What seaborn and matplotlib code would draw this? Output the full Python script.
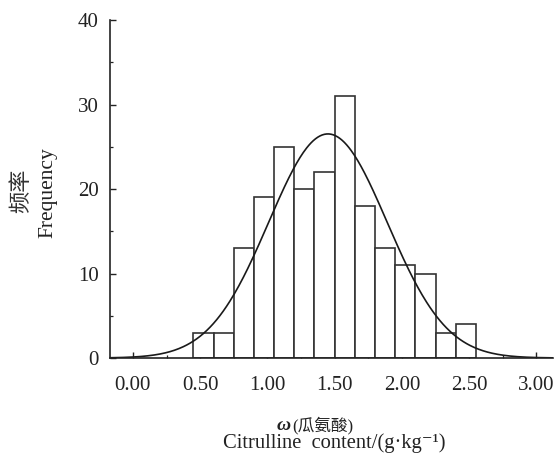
import numpy as np
import pandas as pd
import matplotlib
matplotlib.use("Agg")
import matplotlib.pyplot as plt
from matplotlib.ticker import MultipleLocator, FormatStrFormatter
import seaborn as sns

# Histogram of citrulline content: bins of 0.15 g/kg starting at 0.45
bin_start = 0.45
bin_width = 0.15
counts = [3, 3, 13, 19, 25, 20, 22, 31, 18, 13, 11, 10, 3, 4]

# Fitted normal curve parameters
fit_mean = 1.45
fit_sd = 0.44

x_ticks = [0.0, 0.5, 1.0, 1.5, 2.0, 2.5, 3.0]
y_ticks = [0, 10, 20, 30, 40]

sns.set_theme(style="ticks")
plt.rcParams["font.family"] = ["Liberation Serif", "Noto Sans CJK SC", "DejaVu Sans"]

n_bins = len(counts)
mids = bin_start + bin_width * (np.arange(n_bins) + 0.5)
df = pd.DataFrame({"content": mids, "count": counts})

fig = plt.figure(figsize=(5.54, 4.53), dpi=100)
ax = fig.add_axes([0.1986, 0.2097, 0.8, 0.7461])

sns.histplot(data=df, x="content", weights="count",
             binwidth=bin_width,
             binrange=(bin_start, bin_start + bin_width * n_bins),
             color="white", edgecolor="#333333", linewidth=1.2,
             alpha=1.0, ax=ax)

xmin, xmax = -0.17, 3.125
xs = np.linspace(xmin, xmax, 400)
total = sum(counts)
pdf = total * bin_width / (fit_sd * np.sqrt(2 * np.pi)) * np.exp(-0.5 * ((xs - fit_mean) / fit_sd) ** 2)
sns.lineplot(x=xs, y=pdf, color="#1a1a1a", linewidth=1.2, ax=ax)

ax.set_xlim(xmin, xmax)
ax.set_ylim(0, 40)
ax.set_xticks(x_ticks)
ax.set_yticks(y_ticks)
ax.xaxis.set_major_formatter(FormatStrFormatter("%.2f"))
ax.xaxis.set_minor_locator(MultipleLocator(0.25))
ax.yaxis.set_minor_locator(MultipleLocator(5))

for side in ("top", "right"):
    ax.spines[side].set_visible(False)
for side in ("left", "bottom"):
    ax.spines[side].set_linewidth(1.2)
    ax.spines[side].set_color("#222222")

ax.tick_params(axis="both", which="major", direction="in", length=4,
               width=1.0, labelsize=15, colors="#222222")
ax.tick_params(axis="both", which="minor", direction="in", length=2.2,
               width=0.9, colors="#222222")
ax.tick_params(axis="x", which="major", pad=13)
ax.tick_params(axis="y", which="major", pad=8)

ax.set_xlabel("")
ax.set_ylabel("")

text_color = "#222222"
fig.text(21 / 554, 1 - 191 / 453, "频率", rotation=90, ha="center", va="center",
         fontsize=16, family=["Noto Sans CJK SC", "DejaVu Sans"], color="#333333")
fig.text(48 / 554, 1 - 193 / 453, "Frequency", rotation=90, ha="center", va="center",
         fontsize=15.5, color=text_color)
fig.text(291 / 554, 1 - 425 / 453, "ω", ha="right", va="center",
         fontsize=14, style="italic", weight="bold", color=text_color)
fig.text(292 / 554, 1 - 425 / 453, "(瓜氨酸)", ha="left", va="center",
         fontsize=12, color=text_color)
fig.text(334 / 554, 1 - 443 / 453, "Citrulline  content/(g·kg⁻¹)", ha="center", va="center",
         fontsize=14.8, color=text_color)

fig.savefig("out.png", dpi=100)
